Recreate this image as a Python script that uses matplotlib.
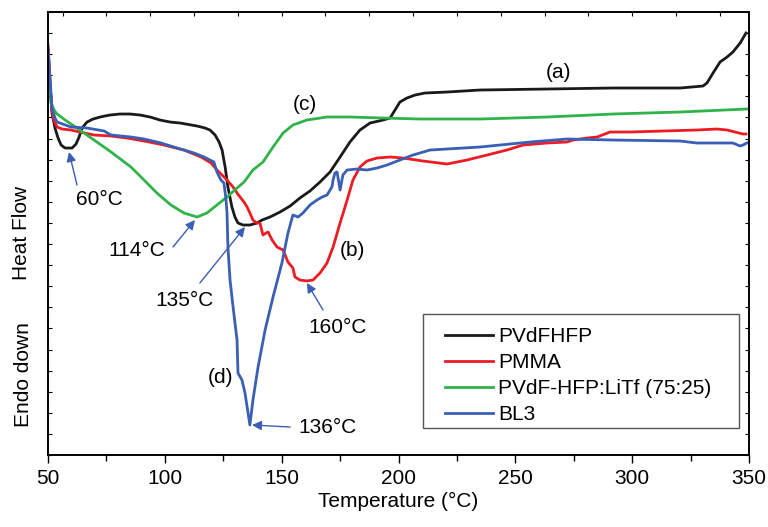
import numpy as np
import matplotlib
matplotlib.use('Agg')
import matplotlib.pyplot as plt
from matplotlib.patches import Rectangle
from matplotlib.ticker import MultipleLocator, NullFormatter

plt.rcParams['font.family'] = ['Liberation Sans', 'DejaVu Sans']

# DSC traces, heat flow in arbitrary units (endo down)
pvdf_T = [50.0, 50.9, 51.7, 53.0, 54.3, 55.6, 57.3, 60.3, 62.0, 63.3, 64.6, 66.7, 69.3, 72.3, 76.5,
          80.8, 85.1, 89.4, 93.7, 97.9, 102.2, 106.5, 113.8, 117.2, 119.3, 121.5, 123.2, 124.5, 125.8,
          127.0, 128.7, 130.0, 131.3, 133.5, 136.4, 139.4, 141.6, 145.0, 149.3, 153.6, 157.8, 162.1,
          166.4, 170.7, 175.0, 179.2, 183.5, 187.8, 193.4, 196.4, 198.5, 200.6, 203.6, 207.1, 211.3,
          220.8, 234.9, 263.6, 291.8, 320.5, 330.3, 332.0, 334.6, 337.6, 340.6, 343.1, 346.2, 348.7]
pvdf_hf = [405, 370, 342, 327, 317, 310, 307, 307, 311, 318, 327, 333, 336, 338, 340,
           341, 341, 340, 338, 335, 333, 332, 329, 327, 325, 320, 313, 305, 288,
           268, 248, 238, 232, 230, 230, 232, 235, 238, 243, 249, 257, 264,
           273, 283, 298, 313, 325, 332, 335, 337, 345, 353, 357, 360, 362,
           363, 365, 366, 367, 367, 369, 372, 382, 393, 398, 403, 412, 422]

pmma_T = [50.0, 50.4, 50.9, 51.7, 52.6, 53.9, 56.0, 59.8, 63.7, 69.7, 77.0, 83.8, 91.1, 99.6, 108.2,
          115.5, 119.8, 122.3, 124.5, 126.6, 129.2, 130.9, 132.2, 133.9, 135.2, 136.4, 137.7, 139.4,
          140.7, 142.0, 143.3, 144.2, 145.9, 148.0, 150.6, 152.7, 154.8, 155.7, 157.8, 160.8, 163.4,
          166.4, 169.4, 172.0, 175.0, 178.0, 180.5, 183.5, 186.5, 190.8, 196.4, 201.9, 210.5, 220.8,
          229.3, 237.9, 246.4, 253.3, 263.6, 272.1, 274.7, 280.7, 285.0, 290.5, 299.1, 313.2, 327.7,
          336.3, 340.6, 347.4, 348.7]
pmma_hf = [410, 395, 370, 345, 334, 328, 326, 325, 323, 320, 319, 317, 314, 310, 305,
           298, 292, 285, 280, 275, 268, 262, 258, 253, 248, 242, 235, 232,
           232, 220, 222, 223, 215, 208, 205, 193, 187, 178, 175, 174, 175,
           182, 192, 208, 232, 255, 275, 288, 294, 297, 298, 297, 294, 291,
           295, 300, 305, 310, 312, 313, 315, 317, 318, 323, 323, 324, 325,
           326, 325, 321, 321]

litf_T = [50.0, 50.4, 50.9, 51.3, 52.6, 53.9, 57.3, 62.4, 69.7, 77.0, 85.5, 91.1, 96.6, 102.6, 108.2,
          113.8, 118.0, 122.3, 126.6, 130.9, 133.9, 137.7, 142.0, 146.3, 150.6, 154.8, 160.8, 169.4,
          179.2, 193.4, 209.2, 234.9, 263.6, 291.8, 320.5, 349.1]
litf_hf = [400, 380, 365, 352, 345, 341, 335, 327, 315, 303, 288, 275, 262, 250, 242,
           238, 242, 250, 258, 267, 273, 285, 293, 308, 322, 330, 335, 338,
           338, 337, 336, 336, 338, 341, 343, 346]

bl3_T = [50.0, 50.9, 51.7, 53.0, 53.9, 59.8, 66.7, 74.0, 77.0, 85.5, 91.1, 98.4, 105.2, 112.5, 116.8,
         121.0, 122.3, 124.0, 125.3, 126.2, 126.6, 127.0, 127.9, 129.2, 130.9, 131.3, 133.0, 134.3,
         136.4, 137.7, 139.9, 142.9, 146.3, 150.1, 152.7, 154.8, 157.0, 159.1, 162.1, 165.1, 167.3,
         169.4, 171.5, 172.0, 172.8, 173.7, 175.0, 176.2, 178.0, 182.2, 186.5, 190.8, 195.1, 200.6,
         206.2, 213.5, 234.9, 256.3, 272.1, 291.8, 320.5, 327.7, 343.1, 346.2, 347.4, 349.1]
bl3_hf = [407, 375, 347, 337, 333, 328, 327, 324, 320, 318, 316, 312, 307, 302, 298,
          293, 283, 275, 272, 255, 242, 208, 175, 148, 115, 82, 75, 62,
          30, 55, 88, 125, 158, 192, 222, 240, 238, 242, 250, 255, 258,
          260, 268, 275, 282, 283, 265, 280, 285, 286, 285, 287, 290, 295,
          300, 305, 308, 313, 316, 315, 314, 312, 312, 309, 310, 312]

labels = ['PVdFHFP', 'PMMA', 'PVdF-HFP:LiTf (75:25)', 'BL3']
colors = ['#1a1a1a', '#ec1c24', '#2fb34a', '#3a5fb4']
arrow_col = '#3a5fb4'

fig = plt.figure(figsize=(7.68, 5.27), dpi=100)
ax = fig.add_axes([0.0625, 0.1366, 0.9128, 0.8406])

series = [(pvdf_T, pvdf_hf), (pmma_T, pmma_hf), (litf_T, litf_hf), (bl3_T, bl3_hf)]
for (t, h), lab, c in zip(series, labels, colors):
    ax.plot(t, h, color=c, lw=2.0, label=lab, solid_joinstyle='round')

ax.set_xlim(50, 350)
ax.set_ylim(0, 443)

# axis ticks
ax.xaxis.set_major_locator(MultipleLocator(50))
ax.xaxis.set_minor_locator(MultipleLocator(25))
ax.tick_params(axis='x', which='major', direction='out', length=6, width=1, labelsize=15, pad=4)
ax.tick_params(axis='x', which='minor', direction='out', length=4, width=1)
ax.set_yticks(np.linspace(0, 443, 22))
ax.yaxis.set_major_formatter(NullFormatter())
ax.tick_params(axis='y', which='both', direction='in', length=3, width=0.8, left=True, right=True)
top = ax.twiny()
top.set_xlim(50, 350)
top.xaxis.set_major_locator(MultipleLocator(18.75))
top.xaxis.set_major_formatter(NullFormatter())
top.tick_params(axis='x', direction='in', length=3, width=0.8)
for a in (ax, top):
    for s in a.spines.values():
        s.set_linewidth(1.2)

ax.set_xlabel('Temperature (°C)', fontsize=15, labelpad=3)
fig.text(22 / 768, 1 - 233 / 527, 'Heat Flow', rotation=90, fontsize=15, ha='center', va='center')
fig.text(24 / 768, 1 - 375 / 527, 'Endo down', rotation=90, fontsize=15, ha='center', va='center')

# curve letters
ax.text(268.3, 383, '(a)', fontsize=15, ha='center', va='center')
ax.text(160.0, 351, '(c)', fontsize=15, ha='center', va='center')
ax.text(180.1, 205, '(b)', fontsize=15, ha='center', va='center')
ax.text(124.0, 78, '(d)', fontsize=15, ha='center', va='center')

# peak annotations: (label, text pos, arrow tail, arrow tip)
peaks = [
    ('60°C', (71.8, 256), (62.4, 270), (59.0, 303)),
    ('114°C', (88.1, 205), (103.5, 208), (112.9, 235)),
    ('135°C', (108.6, 155), (115.0, 172), (134.3, 228)),
    ('160°C', (174.1, 128), (167.7, 145), (160.8, 172)),
    ('136°C', (169.4, 28), (153.6, 28), (137.3, 30)),
]
for txt, tpos, tail, tip in peaks:
    ax.text(tpos[0], tpos[1], txt, fontsize=15, ha='center', va='center')
    ax.annotate('', xy=tip, xytext=tail,
                arrowprops=dict(arrowstyle='-|>', color=arrow_col, lw=1.0,
                                mutation_scale=14, shrinkA=0, shrinkB=0))

# legend box drawn separately so the padding can match
ax.add_patch(Rectangle((0.535, 0.061), 0.451, 0.257, transform=ax.transAxes,
                       facecolor='white', edgecolor='#555555', lw=1.0, zorder=4))
leg = ax.legend(loc='upper left', bbox_to_anchor=(0.566, 0.288), fontsize=15,
                frameon=False, handlelength=2.3, handletextpad=0.25, labelspacing=0.33,
                borderpad=0, borderaxespad=0)
leg.set_zorder(5)
for ln in leg.get_lines():
    ln.set_linewidth(2.0)

fig.savefig('out.png', dpi=100)
